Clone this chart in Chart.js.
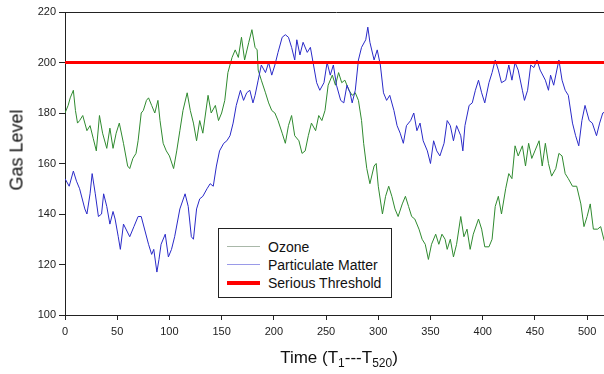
<!DOCTYPE html>
<html>
<head>
<meta charset="utf-8">
<script src="https://cdn.jsdelivr.net/npm/chart.js@4/dist/chart.umd.min.js"></script>
<style>
  html, body { margin: 0; padding: 0; background: #fff; overflow: hidden; }
  #wrap { position: relative; width: 612px; height: 374px; }
  #c { position: absolute; left: 0; top: 0; }
  .ytitle { position: absolute; left: 17px; top: 150px; transform: translate(-50%, -50%) rotate(-90deg);
    font-family: "Liberation Sans", Arial, sans-serif; font-size: 18px; color: #111; white-space: nowrap; }
  .xtitle { position: absolute; left: 339px; top: 359px; transform: translate(-50%, -50%);
    font-family: "Liberation Sans", Arial, sans-serif; font-size: 17px; color: #111; white-space: nowrap; }
  .xtitle sub { font-size: 12px; vertical-align: -4px; }
  #legend { position: absolute; left: 218px; top: 228px; width: 174px; height: 70px; border: 1px solid #222;
    background: #fff; font-family: "Liberation Sans", Arial, sans-serif; font-size: 14px; color: #111; box-sizing: border-box; }
  .row { position: absolute; left: 8px; height: 17px; display: flex; align-items: center; }
  .swatch { width: 33px; margin-right: 8px; }
</style>
</head>
<body>
<div id="wrap">
  <canvas id="c" width="612" height="374"></canvas>
  <div class="ytitle">Gas Level</div>
  <div class="xtitle">Time (T<sub>1</sub>---T<sub>520</sub>)</div>
  <div id="legend"></div>
</div>
<script>
// ---- data ----
const seriesNames = ["Ozone", "Particulate Matter", "Serious Threshold"];

const ozoneTime = [0,3,5,8,10,12,14,17,21,24,27,30,33,36,40,43,46,49,52,56,60,62,65,68,70,73,75,78,80,83,86,89,91,94,97,100,104,107,110,113,117,120,123,126,129,132,137,140,144,147,150,153,156,160,163,166,169,172,176,179,182,184,185,188,192,195,198,201,204,208,211,214,217,220,224,227,230,233,236,240,243,246,249,252,256,259,262,265,268,272,275,278,281,284,286,289,292,296,298,300,304,307,310,313,316,319,323,326,329,332,335,339,342,345,348,351,355,358,361,364,366,369,372,375,379,382,385,388,391,396,399,402,406,409,412,415,418,422,425,428,431,434,438,441,444,447,450,454,457,460,463,466,470,473,476,479,482,486,490,494,497,500,503,506,510,513,516,520];
const ozoneLevel = [180,183,186,189,181,176,177,179,173,175,170,165,179,172,166,174,166,172,176,168,159,158,162,164,169,180,181,185,186,183,180,185,177,168,165,163,158,165,173,181,188,181,176,169,177,172,187,180,183,177,180,185,196,202,205,202,210,201,208,213,206,205,197,193,188,184,181,180,177,172,168,175,179,171,169,164,165,171,176,173,179,177,181,191,195,191,196,192,193,189,187,188,185,177,168,158,152,159,160,151,140,147,151,147,142,139,144,147,143,139,138,134,130,128,122,128,132,128,132,130,126,130,123,128,139,131,134,126,132,138,134,127,127,130,143,147,140,150,156,154,167,163,167,159,168,162,165,169,159,168,160,155,158,164,163,156,154,151,151,144,135,139,144,134,134,135,130,125];

const pmTime = [0,4,8,11,14,19,21,24,26,29,32,35,37,40,43,46,48,51,53,56,62,66,70,73,80,83,85,88,90,92,96,99,102,105,110,115,118,121,123,126,129,132,136,139,142,145,148,152,155,158,161,164,168,171,174,177,180,182,185,188,192,195,198,201,204,208,211,214,217,220,222,225,228,232,235,238,241,244,248,251,254,257,260,264,267,270,273,275,278,281,284,288,290,292,296,299,302,305,308,311,315,318,321,324,327,331,334,337,340,343,347,350,353,356,359,363,366,369,372,375,379,381,383,387,390,393,396,399,402,406,409,412,415,418,422,425,428,431,434,438,440,443,446,449,452,455,460,463,465,468,473,476,479,482,486,489,492,495,498,502,505,509,512,515,520];
const pmLevel = [154,151,157,153,150,142,140,148,156,148,139,140,148,143,136,141,138,131,126,136,131,135,139,139,128,124,126,117,122,128,132,123,126,131,142,148,143,131,130,142,146,147,150,152,151,159,165,168,169,171,176,183,189,185,188,189,184,187,193,199,196,200,195,199,204,210,211,210,206,201,209,203,208,204,206,199,192,189,192,200,195,199,191,185,184,191,188,184,189,201,206,209,214,208,201,205,199,188,185,187,181,175,172,168,175,177,180,173,176,169,165,160,169,165,163,168,177,175,169,175,171,165,175,183,184,189,193,188,184,192,196,201,197,192,193,199,193,200,197,189,185,189,199,198,201,197,193,189,195,191,201,193,189,187,176,171,167,177,183,177,176,171,176,180,181];

const thresholdTime = [0, 520];
const thresholdLevel = [200, 200];

const xTickValues = [0,50,100,150,200,250,300,350,400,450,500];
const yTickValues = [100,120,140,160,180,200,220];

// ---- styles ----
const colors = { ozone: "#2f8a2f", pm: "#2a2ac8", threshold: "#ff0000" };
const legendColors = ["#a9b8a9", "#9a9ae8", "#ff0000"];
const legendWidths = [1, 1, 4];

const toPts = (xs, ys) => xs.map((x, i) => ({ x: x, y: ys[i] }));

const topBorder = {
  id: "topBorder",
  afterDraw(chart) {
    const a = chart.chartArea, ctx = chart.ctx;
    ctx.save();
    ctx.strokeStyle = "#222";
    ctx.lineWidth = 1;
    ctx.beginPath();
    ctx.moveTo(a.left, Math.round(a.top) + 0.5);
    ctx.lineTo(a.right, Math.round(a.top) + 0.5);
    ctx.stroke();
    ctx.restore();
  }
};

const chart = new Chart(document.getElementById("c"), {
  type: "line",
  data: {
    datasets: [
      { label: seriesNames[0], data: toPts(ozoneTime, ozoneLevel), borderColor: colors.ozone, borderWidth: 1, pointRadius: 0, tension: 0, order: 2 },
      { label: seriesNames[1], data: toPts(pmTime, pmLevel), borderColor: colors.pm, borderWidth: 1, pointRadius: 0, tension: 0, order: 1 },
      { label: seriesNames[2], data: toPts(thresholdTime, thresholdLevel), borderColor: colors.threshold, borderWidth: 3, pointRadius: 0, tension: 0, order: 0 }
    ]
  },
  options: {
    responsive: false,
    animation: false,
    events: [],
    layout: { padding: { top: 12, right: 4, left: 0, bottom: 0 } },
    plugins: { legend: { display: false }, tooltip: { enabled: false } },
    scales: {
      x: {
        type: "linear", min: 0, max: 520,
        afterBuildTicks: s => { s.ticks = xTickValues.map(v => ({ value: v })); },
        afterFit: s => { s.height = 59; },
        grid: { display: true, drawOnChartArea: false, drawTicks: true, tickLength: 5, color: "#222" },
        border: { display: true, color: "#222", width: 1 },
        ticks: { padding: 5, color: "#222", font: { family: "Liberation Sans, Arial, sans-serif", size: 11 }, maxRotation: 0 }
      },
      y: {
        min: 100, max: 220,
        afterBuildTicks: s => { s.ticks = yTickValues.map(v => ({ value: v })); },
        afterFit: s => { s.width = 65; },
        grid: { display: true, drawOnChartArea: false, drawTicks: true, tickLength: 6, color: "#222" },
        border: { display: true, color: "#222", width: 1 },
        ticks: { padding: 3, color: "#222", font: { family: "Liberation Sans, Arial, sans-serif", size: 11 } }
      }
    }
  },
  plugins: [topBorder]
});

// legend built from the dataset labels
const lg = document.getElementById("legend");
seriesNames.forEach((name, i) => {
  const row = document.createElement("div");
  row.className = "row";
  row.style.top = (9 + i * 18) + "px";
  const sw = document.createElement("div");
  sw.className = "swatch";
  sw.style.borderTop = legendWidths[i] + "px solid " + legendColors[i];
  const tx = document.createElement("span");
  tx.textContent = name;
  row.appendChild(sw); row.appendChild(tx);
  lg.appendChild(row);
});
</script>
</body>
</html>
